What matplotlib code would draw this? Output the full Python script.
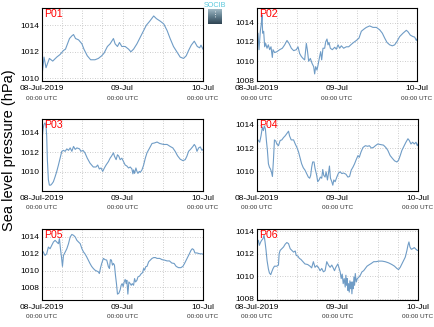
import datetime as dt
import numpy as np
import matplotlib
matplotlib.use('Agg')
import matplotlib.pyplot as plt
import matplotlib.dates as mdates
import matplotlib.transforms as mtransforms

plt.rcParams['font.family'] = ['Liberation Sans', 'DejaVu Sans']

start = dt.datetime(2019, 7, 8)

# hours since 08-Jul-2019 00:00 UTC, pressure in hPa
p01_h = [0.0, 0.6, 1.2, 2.2, 3.2, 4.4, 5.4, 6.4, 7.0, 7.6, 8.2, 8.9, 9.4, 10.0, 10.9, 11.9, 12.5, 13.5, 14.5, 15.8,
         16.8, 17.8, 18.5, 19.5, 20.3, 21.3, 21.8, 22.5, 23.1, 23.8, 24.8, 25.8, 26.5, 27.3, 28.3, 29.1, 30.1, 31.1,
         32.1, 33.3, 34.1, 35.3, 36.3, 37.3, 38.2, 39.2, 40.2, 41.2, 42.2, 43.0, 43.7, 44.5, 45.4, 46.3, 47.0, 47.4, 48.0]
p01_v = [1010.2, 1011.6, 1010.8, 1011.5, 1011.3, 1011.6, 1011.8, 1012.1, 1012.2, 1012.6, 1013.0, 1013.2, 1013.3,
         1013.0, 1012.9, 1012.6, 1012.2, 1011.7, 1011.4, 1011.4, 1011.5, 1011.7, 1011.9, 1012.4, 1012.6, 1013.0,
         1012.6, 1012.4, 1012.7, 1012.4, 1012.4, 1012.2, 1012.0, 1012.2, 1012.6, 1013.0, 1013.5, 1014.0, 1014.3,
         1014.7, 1014.5, 1014.3, 1014.1, 1013.6, 1013.0, 1012.4, 1012.0, 1011.6, 1011.5, 1011.7, 1012.1, 1012.5,
         1012.8, 1012.4, 1012.3, 1012.5, 1012.2]

p02_h = [0.0, 0.3, 0.6, 1.0, 1.3, 1.5, 1.7, 2.0, 2.3, 2.6, 3.0, 3.4, 3.8, 4.2, 4.6, 4.8, 5.3, 6.0, 6.8, 7.6, 8.3,
         9.0, 9.6, 10.3, 11.0, 11.8, 12.3, 12.8, 13.3, 13.8, 14.3, 14.8, 15.1, 15.5, 16.0, 16.5, 17.0, 17.3, 17.6,
         18.0, 18.3, 18.8, 19.1, 19.4, 19.8, 20.3, 20.6, 21.0, 21.3, 21.6, 22.0, 22.6, 23.3, 23.8, 24.3, 24.8, 25.3,
         26.0, 26.8, 27.5, 28.3, 29.0, 29.8, 30.6, 31.3, 32.0, 32.8, 33.8, 34.8, 35.8, 36.8, 37.6, 38.3, 39.0, 39.8,
         40.6, 41.3, 42.0, 42.8, 43.8, 44.8, 45.3, 46.0, 46.8, 47.3, 47.8, 48.0]
p02_v = [1012.55, 1012.9, 1011.2, 1013.1, 1013.9, 1014.8, 1012.9, 1013.1, 1011.5, 1011.85, 1011.35, 1011.7, 1011.2,
         1011.5, 1010.4, 1011.2, 1010.9, 1011.0, 1011.2, 1011.35, 1011.7, 1012.15, 1011.85, 1011.35, 1011.1, 1011.2,
         1011.5, 1010.8, 1010.5, 1010.3, 1010.15, 1011.85, 1011.2, 1010.0, 1010.3, 1009.8, 1009.45, 1008.7, 1009.45,
         1009.1, 1009.6, 1010.5, 1011.0, 1010.15, 1011.35, 1011.35, 1012.0, 1012.3, 1011.7, 1011.95, 1011.35, 1011.2,
         1011.45, 1011.25, 1011.7, 1011.35, 1011.6, 1011.35, 1011.5, 1011.5, 1011.75, 1011.95, 1012.15, 1012.4,
         1013.1, 1013.3, 1013.5, 1013.65, 1013.5, 1013.5, 1013.25, 1012.9, 1012.4, 1011.95, 1011.7, 1011.6, 1011.7,
         1012.05, 1012.55, 1012.9, 1013.2, 1013.05, 1012.7, 1012.55, 1012.5, 1012.15, 1012.3]

p03_h = [0.0, 0.3, 0.6, 0.9, 1.2, 1.4, 1.6, 1.9, 2.2, 2.6, 3.0, 3.4, 3.9, 4.4, 4.9, 5.4, 5.9, 6.4, 6.9, 7.4, 7.9,
         8.4, 8.9, 9.4, 9.9, 10.4, 11.2, 11.6, 12.2, 12.8, 13.5, 14.3, 15.3, 16.1, 16.6, 17.1, 17.6, 18.1, 18.6,
         19.1, 19.8, 20.3, 20.8, 21.3, 21.6, 22.1, 22.5, 22.9, 23.3, 23.8, 24.3, 24.8, 25.3, 25.8, 26.3, 26.8, 27.1,
         27.3, 27.6, 28.0, 28.3, 28.6, 29.0, 29.3, 29.8, 30.3, 30.8, 31.3, 32.1, 32.8, 33.5, 34.3, 35.1, 36.3, 37.3,
         38.2, 39.0, 39.7, 40.4, 41.2, 42.0, 42.7, 43.2, 43.7, 44.4, 45.0, 45.4, 45.8, 46.2, 46.7, 47.2, 47.7, 48.0]
p03_v = [1013.3, 1014.35, 1014.85, 1015.0, 1014.7, 1013.65, 1011.25, 1009.2, 1008.65, 1008.65, 1008.8, 1009.0,
         1009.5, 1010.05, 1010.7, 1011.4, 1012.1, 1012.2, 1012.1, 1012.35, 1012.2, 1012.45, 1012.1, 1012.6, 1012.3,
         1012.45, 1012.35, 1012.1, 1012.2, 1011.95, 1011.4, 1010.9, 1010.5, 1010.5, 1010.7, 1010.3, 1010.4, 1010.05,
         1010.4, 1010.7, 1011.05, 1011.4, 1011.65, 1011.95, 1011.6, 1011.25, 1011.75, 1011.6, 1011.25, 1011.4,
         1011.05, 1010.7, 1010.6, 1010.4, 1010.5, 1010.3, 1009.8, 1010.2, 1009.85, 1010.4, 1010.05, 1009.85, 1010.05,
         1009.95, 1010.2, 1010.7, 1011.4, 1011.95, 1012.45, 1012.9, 1012.95, 1013.05, 1012.9, 1012.8, 1012.8, 1012.6,
         1012.45, 1012.1, 1011.65, 1011.3, 1011.15, 1011.25, 1011.6, 1012.1, 1012.35, 1012.6, 1012.8, 1012.6, 1012.1,
         1012.45, 1012.55, 1012.2, 1012.3]

p04_h = [0.0, 0.4, 0.8, 1.2, 1.6, 1.9, 2.2, 2.5, 2.8, 3.1, 3.4, 3.7, 4.0, 4.3, 4.6, 4.9, 5.2, 5.6, 5.9, 6.4, 6.9,
         7.4, 7.9, 8.4, 8.9, 9.4, 9.7, 10.2, 10.9, 11.4, 11.9, 12.4, 12.8, 13.3, 13.8, 14.3, 14.8, 15.3, 15.7, 16.0,
         16.3, 16.6, 17.0, 17.3, 17.8, 18.1, 18.5, 18.9, 19.3, 19.6, 19.9, 20.3, 20.6, 21.0, 21.3, 21.6, 21.9, 22.3,
         22.6, 22.9, 23.3, 23.8, 24.3, 24.8, 25.3, 25.8, 26.5, 27.1, 27.6, 28.1, 28.6, 29.1, 29.5, 30.1, 30.5, 31.0,
         31.6, 32.3, 33.0, 33.5, 34.1, 34.7, 35.3, 36.0, 36.8, 37.7, 38.4, 39.0, 39.7, 40.4, 41.0, 41.7, 42.2, 42.7,
         43.2, 43.8, 44.4, 45.0, 45.4, 45.9, 46.4, 46.9, 47.4, 47.8, 48.0]
p04_v = [1012.8, 1012.65, 1012.5, 1013.05, 1013.8, 1013.5, 1013.9, 1013.65, 1012.65, 1011.8, 1010.65, 1010.35,
         1010.2, 1009.95, 1009.55, 1010.95, 1012.7, 1012.6, 1012.35, 1012.2, 1012.65, 1012.7, 1012.9, 1013.05,
         1013.25, 1013.45, 1013.05, 1012.7, 1012.7, 1012.35, 1012.05, 1011.65, 1011.2, 1010.65, 1010.3, 1010.1,
         1009.8, 1009.5, 1009.4, 1009.65, 1010.35, 1010.8, 1010.8, 1010.25, 1009.65, 1009.1, 1009.25, 1009.5, 1009.4,
         1010.15, 1009.65, 1009.5, 1009.95, 1009.25, 1009.8, 1010.45, 1009.4, 1009.1, 1008.8, 1009.25, 1009.1, 1009.5,
         1009.85, 1009.95, 1009.8, 1009.85, 1009.75, 1009.5, 1009.55, 1010.1, 1010.35, 1010.65, 1010.95, 1011.35,
         1011.2, 1011.65, 1012.05, 1012.2, 1012.15, 1012.2, 1012.0, 1012.05, 1012.2, 1012.35, 1012.3, 1012.25,
         1012.05, 1011.8, 1011.35, 1011.1, 1010.9, 1010.8, 1010.95, 1011.35, 1011.8, 1012.15, 1012.5, 1012.8,
         1012.65, 1012.35, 1012.5, 1012.35, 1012.5, 1012.2, 1012.35]

p05_h = [0.0, 0.4, 0.9, 1.4, 1.9, 2.4, 2.9, 3.4, 3.9, 4.4, 4.9, 5.2, 5.5, 5.8, 6.1, 6.4, 6.9, 7.4, 7.9, 8.4, 8.9,
         9.4, 9.9, 10.4, 10.9, 11.4, 11.9, 12.4, 12.8, 13.3, 13.8, 14.3, 14.8, 15.3, 15.8, 16.3, 16.8, 17.1, 17.4,
         17.8, 18.3, 18.8, 19.3, 19.8, 20.1, 20.4, 20.7, 21.0, 21.3, 21.6, 21.9, 22.2, 22.5, 22.9, 23.3, 23.6, 23.9,
         24.2, 24.5, 24.8, 25.1, 25.3, 25.6, 25.9, 26.3, 26.6, 26.9, 27.3, 27.6, 27.9, 28.3, 28.6, 29.1, 29.6, 30.0,
         30.3, 30.6, 30.9, 31.3, 31.8, 32.3, 32.8, 33.3, 33.8, 34.3, 35.1, 35.8, 36.5, 37.3, 38.0, 38.7, 39.4, 40.0,
         40.7, 41.4, 42.0, 42.5, 43.0, 43.5, 44.0, 44.4, 44.8, 45.2, 45.6, 46.2, 47.0, 47.6, 48.0]
p05_v = [1012.4, 1012.2, 1011.8, 1012.0, 1012.8, 1012.6, 1013.0, 1013.4, 1013.6, 1013.4, 1013.2, 1013.8, 1012.6,
         1011.65, 1010.5, 1011.8, 1012.2, 1012.6, 1013.2, 1014.0, 1014.3, 1014.2, 1014.0, 1013.6, 1013.4, 1013.2,
         1012.6, 1012.2, 1012.0, 1011.65, 1011.25, 1010.85, 1010.5, 1010.25, 1010.05, 1009.95, 1009.85, 1009.65,
         1010.25, 1010.85, 1011.45, 1011.3, 1011.25, 1010.45, 1010.25, 1011.3, 1011.25, 1010.65, 1010.85, 1010.65,
         1009.45, 1008.45, 1007.2, 1007.3, 1007.7, 1008.25, 1008.45, 1008.1, 1008.65, 1008.95, 1008.45, 1008.85,
         1007.2, 1008.65, 1008.45, 1008.25, 1008.45, 1008.25, 1009.05, 1008.65, 1008.85, 1009.25, 1009.35, 1009.65,
         1009.75, 1010.25, 1010.05, 1010.45, 1010.5, 1011.05, 1011.25, 1011.45, 1011.55, 1011.55, 1011.45, 1011.45,
         1011.3, 1011.25, 1011.15, 1011.15, 1010.9, 1010.85, 1010.5, 1010.35, 1010.35, 1010.5, 1010.85, 1011.25,
         1011.65, 1012.05, 1012.4, 1012.6, 1012.5, 1012.1, 1012.1, 1012.0, 1012.0, 1011.95]

p06_h = [0.0, 0.4, 0.7, 1.1, 1.4, 1.8, 2.1, 2.4, 2.7, 3.0, 3.4, 3.7, 4.1, 4.4, 4.8, 5.2, 5.9, 6.4, 6.6, 6.9, 7.4,
         7.9, 8.4, 8.9, 9.4, 9.9, 10.4, 10.9, 11.4, 11.7, 12.2, 12.6, 13.1, 13.7, 14.3, 15.1, 15.8, 16.3, 16.8, 17.3,
         17.8, 18.3, 18.8, 19.3, 19.8, 20.3, 20.8, 21.3, 21.8, 22.3, 22.8, 23.1, 23.5, 24.1, 24.5, 24.8, 25.1, 25.4,
         25.7, 26.0, 26.3, 26.5, 26.7, 26.9, 27.1, 27.3, 27.5, 27.7, 27.9, 28.1, 28.3, 28.5, 28.7, 28.9, 29.1, 29.3,
         29.6, 29.9, 30.3, 30.8, 31.3, 31.8, 32.3, 32.8, 33.3, 34.1, 34.8, 35.5, 36.3, 37.3, 38.2, 39.2, 40.2, 41.0,
         41.7, 42.2, 42.7, 43.2, 43.7, 44.2, 44.7, 45.0, 45.3, 45.6, 46.0, 46.4, 46.9, 47.4, 47.8, 48.0]
p06_v = [1012.9, 1013.2, 1012.75, 1013.05, 1013.2, 1013.35, 1013.65, 1013.05, 1012.3, 1011.4, 1010.65, 1010.3,
         1010.15, 1010.4, 1010.7, 1010.9, 1010.9, 1011.0, 1012.0, 1012.3, 1012.45, 1012.6, 1012.85, 1013.0, 1012.9,
         1012.45, 1012.3, 1012.15, 1012.25, 1011.85, 1011.8, 1011.6, 1011.5, 1011.3, 1011.1, 1011.05, 1010.9,
         1010.75, 1011.3, 1010.8, 1010.95, 1010.8, 1010.5, 1010.7, 1010.4, 1010.5, 1011.3, 1011.0, 1010.8, 1011.0,
         1010.7, 1010.5, 1010.8, 1011.1, 1010.7, 1010.4, 1009.8, 1010.2, 1009.35, 1009.8, 1009.05, 1010.1, 1009.2,
         1009.8, 1008.75, 1009.35, 1008.6, 1009.6, 1008.9, 1009.5, 1008.45, 1009.5, 1008.9, 1009.95, 1009.2, 1010.25,
         1009.5, 1009.8, 1009.9, 1010.1, 1010.4, 1010.5, 1010.7, 1010.9, 1011.0, 1011.15, 1011.3, 1011.3, 1011.35,
         1011.35, 1011.3, 1011.2, 1011.05, 1010.9, 1010.7, 1010.6, 1010.8, 1011.1, 1011.4, 1011.7, 1012.3, 1012.75,
         1013.05, 1012.6, 1012.4, 1012.45, 1012.55, 1012.4, 1012.3, 1012.3]

names = ['P01', 'P02', 'P03', 'P04', 'P05', 'P06']
hours = [p01_h, p02_h, p03_h, p04_h, p05_h, p06_h]
values = [p01_v, p02_v, p03_v, p04_v, p05_v, p06_v]
ylims = [(1009.8, 1015.3), (1007.97, 1015.5), (1008.05, 1015.4),
         (1008.3, 1014.5), (1006.5, 1014.95), (1007.9, 1014.2)]
ytick_sets = [[1010, 1012, 1014], [1008, 1010, 1012, 1014], [1010, 1012, 1014],
              [1010, 1012, 1014], [1008, 1010, 1012, 1014], [1008, 1010, 1012, 1014]]
tick_days = ['08-Jul-2019', '09-Jul', '10-Jul']

W, H = 435, 327
boxes = [(42, 8, 203, 81), (257, 8, 417, 81),
         (42, 119, 203, 191), (257, 119, 418, 191),
         (42, 229, 203, 300), (257, 229, 418, 300)]

fig = plt.figure(figsize=(W / 100, H / 100), dpi=100)
line_col = '#6f9cc6'

for i in range(6):
    l, t, r, b = boxes[i]
    ax = fig.add_axes([l / W, 1 - b / H, (r - l) / W, (b - t) / H])
    times = [start + dt.timedelta(hours=h) for h in hours[i]]
    ax.plot(times, values[i], color=line_col, lw=0.8)
    ax.set_xlim(start, start + dt.timedelta(hours=48))
    ax.set_ylim(*ylims[i])
    ax.set_yticks(ytick_sets[i])
    ax.set_yticklabels([str(v) for v in ytick_sets[i]], fontsize=6)
    days = [start + dt.timedelta(days=k) for k in range(3)]
    ax.set_xticks(days)
    ax.set_xticklabels(tick_days, fontsize=6)
    ax.xaxis.set_minor_locator(mdates.HourLocator(byhour=[6, 12, 18]))
    ax.tick_params(which='both', length=0, pad=2)
    ax.tick_params(axis='x', pad=3)
    ax.grid(True, which='both', axis='x', color='#bdbdbd', ls=(0, (1, 2)), lw=0.6)
    ax.grid(True, which='major', axis='y', color='#bdbdbd', ls=(0, (1, 2)), lw=0.6)
    for s in ax.spines.values():
        s.set_linewidth(0.8)
    trans = mtransforms.blended_transform_factory(ax.transData, ax.transAxes)
    for d in days:
        ax.text(mdates.date2num(d), -0.2, '00:00 UTC', transform=trans, ha='center', va='top',
                fontsize=4.6, color='#333333')
    ax.text(0.015, 0.99, names[i], transform=ax.transAxes, ha='left', va='top',
            fontsize=7.6, color='red')

fig.text(9 / W, 1 - 150 / H, 'Sea level pressure (hPa)', rotation=90, ha='center', va='center',
         fontsize=10.5)

# small SOCIB logo between the top panels
fig.text(215 / W, 1 - 2 / H, 'SOCIB', ha='center', va='top', fontsize=5.2, color='#5ac8dc')
lax = fig.add_axes([208 / W, 1 - 24 / H, 14 / W, 15 / H])
grad = np.linspace(0, 1, 50).reshape(-1, 1)
lax.imshow(grad, aspect='auto', cmap=matplotlib.colors.LinearSegmentedColormap.from_list(
    'logo', ['#9fb8c4', '#5f7c8c', '#2f4452']))
lax.plot([0, 0], [5, 30], color='white', ls=(0, (1, 2)), lw=0.6)
lax.set_axis_off()

fig.savefig('out.png', dpi=100)
